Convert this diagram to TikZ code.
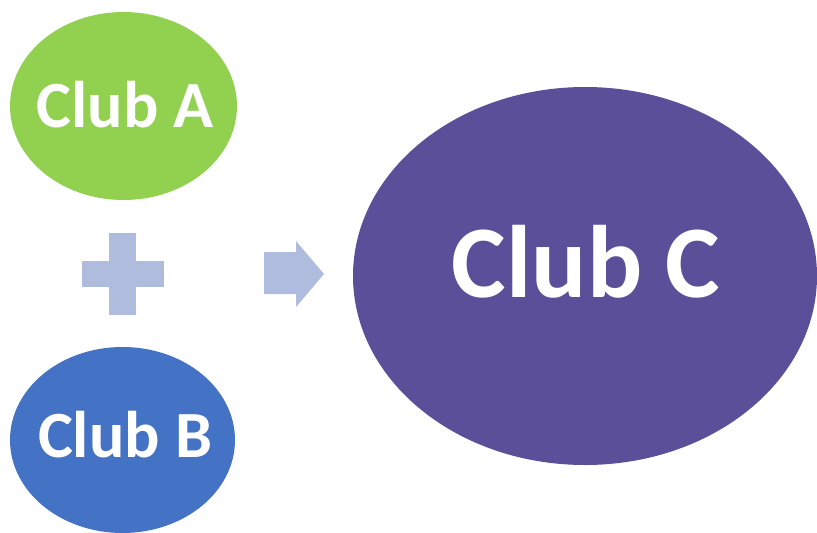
\documentclass[tikz,border=0pt]{standalone}
\usepackage{fontspec}
\setmainfont{Carlito}
\usetikzlibrary{shapes.geometric}

\definecolor{clubA}{HTML}{92D050}
\definecolor{clubB}{HTML}{4472C4}
\definecolor{clubC}{HTML}{5C4F99}
\definecolor{opcol}{HTML}{B0BCDE}

\tikzset{
  club/.style={ellipse, inner sep=0pt, draw=none},
  lbl/.style={anchor=base, text=white, inner sep=0pt, font=\bfseries\fontsize{66}{70}\selectfont},
  biglbl/.style={lbl, font=\bfseries\fontsize{103}{110}\selectfont},
  opsym/.style={fill=opcol, draw=none}
}

\begin{document}
\begin{tikzpicture}[x=1pt, y=-1pt]
  \useasboundingbox (0,0) rectangle (817,533);

  % the three clubs
  \node[club, fill=clubA, minimum width=227pt, minimum height=188pt] (a) at (123.5,106) {};
  \node[club, fill=clubB, minimum width=225pt, minimum height=186pt] (b) at (122.5,440) {};
  \node[club, fill=clubC, minimum width=464pt, minimum height=378pt] (c) at (585,276) {};

  % club names
  \node[lbl] (ta) at (125,127) {Club A};
  \node[lbl] (tb) at (125,457) {Club B};
  \node[biglbl] (tc) at (586,297) {Club C};

  % plus sign between A and B
  \fill[opsym] (109,233) rectangle (136,315);
  \fill[opsym] (82,261) rectangle (164,287);

  % arrow pointing to the merged club
  \fill[opsym] (264,252) -- (296,252) -- (296,241) -- (324,274)
               -- (296,307) -- (296,294) -- (264,294) -- cycle;
\end{tikzpicture}
\end{document}
